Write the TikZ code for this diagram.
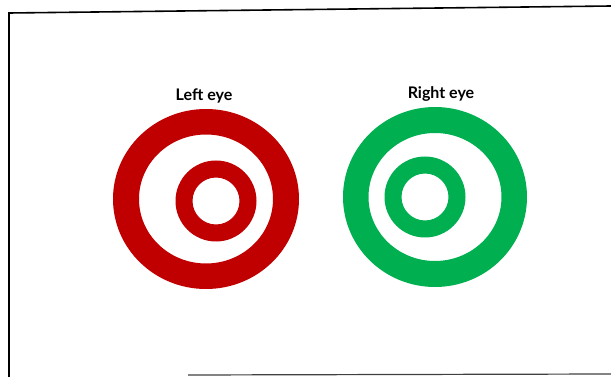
\documentclass[tikz,border=0pt]{standalone}
\usepackage{fontspec}
\setmainfont{Lato}
\definecolor{eyered}{RGB}{192,0,0}
\definecolor{eyegreen}{RGB}{0,176,80}

\begin{document}
\begin{tikzpicture}[
            x=1pt, y=-1pt,
            ring/.style={fill=#1, draw=none, even odd rule},
            caption/.style={font=\bfseries\fontsize{16}{18}\selectfont, inner sep=0pt}
        ]
\useasboundingbox (0,0) rectangle (611,377);

% frame
            \coordinate (framebl) at (9,377);
            \coordinate (frametl) at (9,13);
            \coordinate (frametr) at (611,6);
            \coordinate (bottoml) at (188,375);
            \coordinate (bottomr) at (611,374);
            \draw[line width=1.6pt] (framebl) -- (frametl) -- (frametr);
            \draw[line width=1.2pt, black!75] (bottoml) -- (bottomr);

% centres
            \coordinate (lefteye) at (206,199);
            \coordinate (leftpupil) at (216,201);
            \coordinate (righteye) at (435,197);
            \coordinate (rightpupil) at (425,197);

% left eye
            \fill[ring=eyered] (lefteye) ellipse [x radius=93, y radius=90]
                               (lefteye) ellipse [x radius=67, y radius=64.5];
            \fill[ring=eyered] (leftpupil) circle [radius=40.5]
                               (leftpupil) circle [radius=23.5];

% right eye
            \fill[ring=eyegreen] (righteye) ellipse [x radius=92, y radius=90]
                                 (righteye) ellipse [x radius=66.5, y radius=64];
            \fill[ring=eyegreen] (rightpupil) circle [radius=40.5]
                                 (rightpupil) circle [radius=23.5];

% labels
            \node[caption] (lefttext) at (204,96) {Left eye};
            \node[caption] (righttext) at (441,94) {Right eye};

        \end{tikzpicture}
\end{document}
